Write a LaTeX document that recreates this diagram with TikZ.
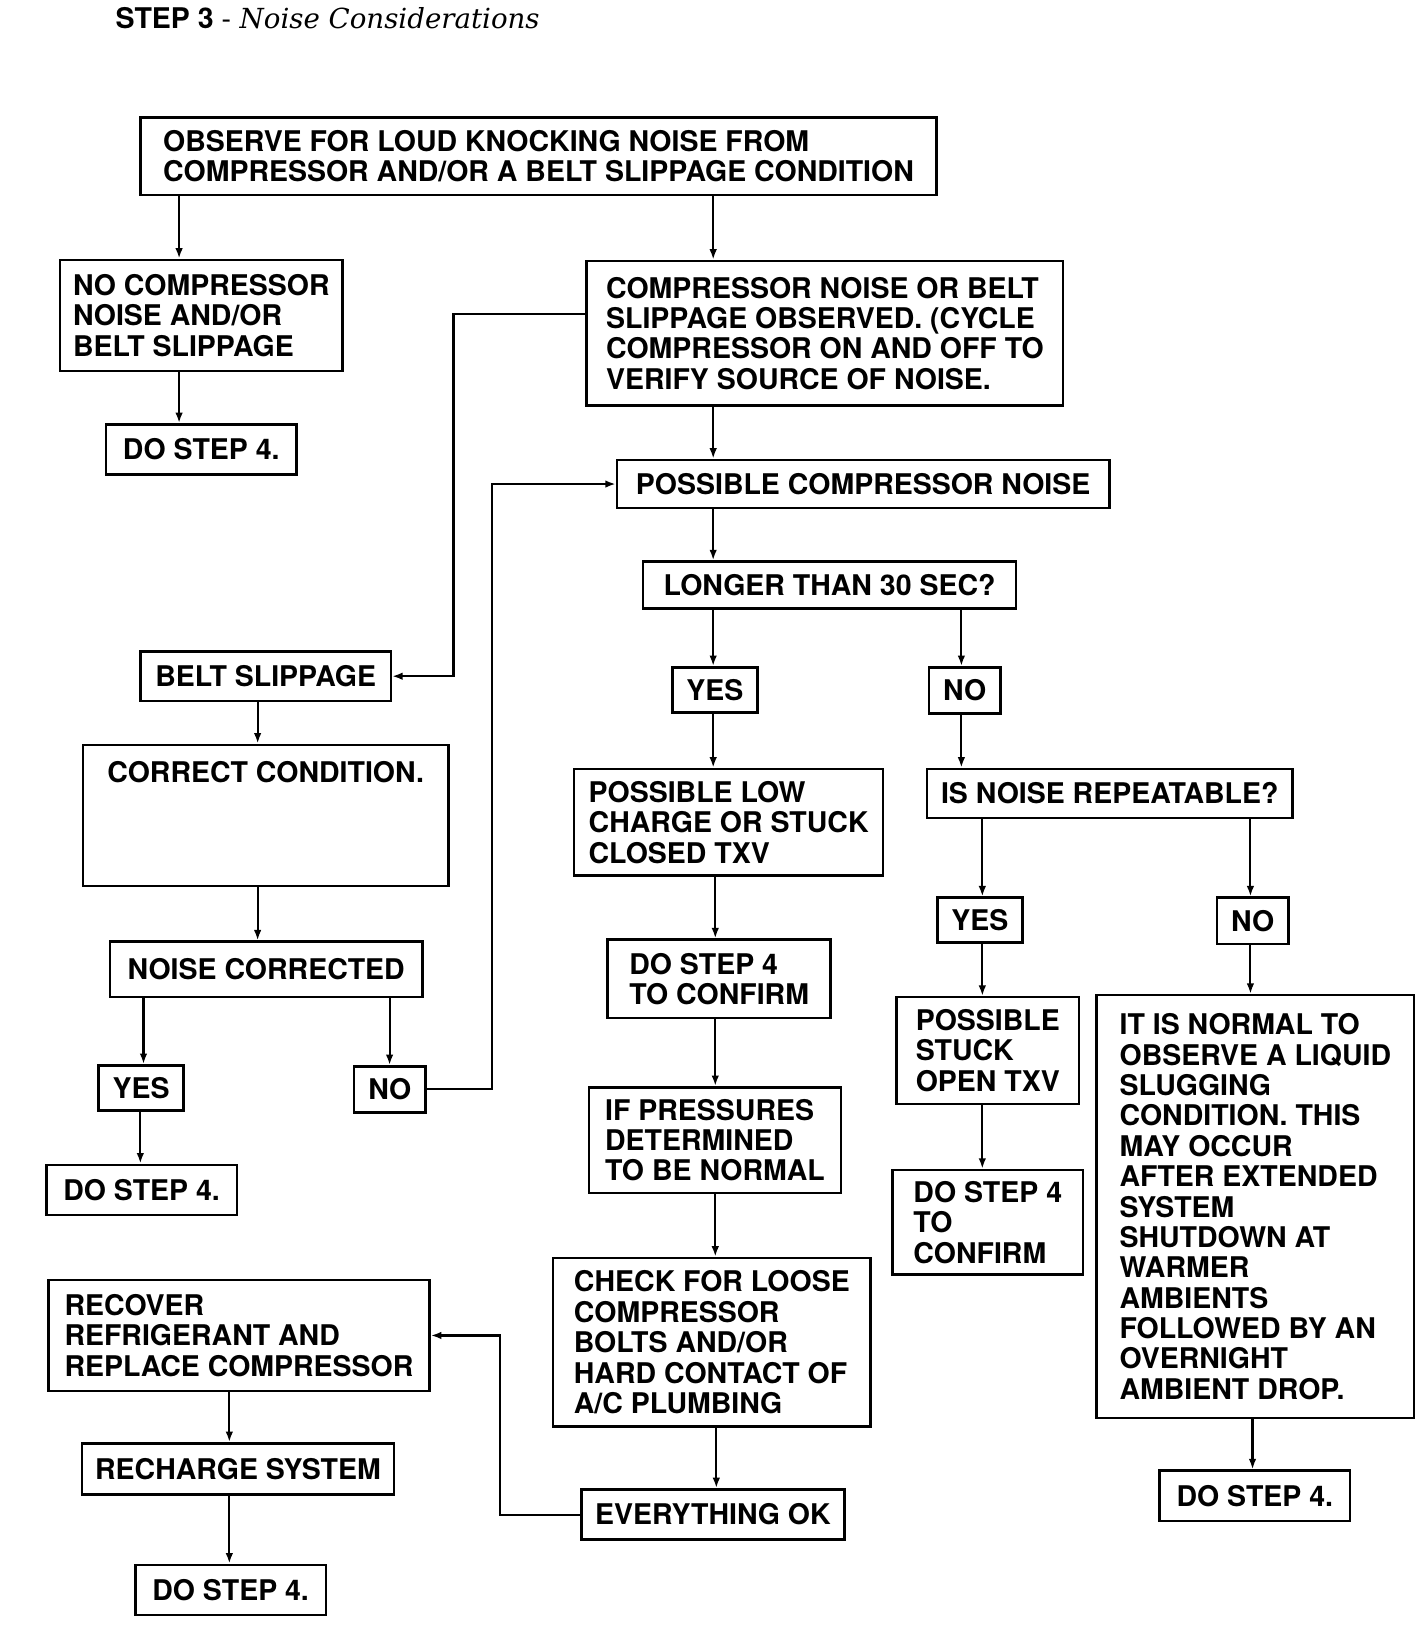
\documentclass[tikz,border=0pt]{standalone}
\usepackage{fontspec}
\newfontfamily\heros{TeX Gyre Heros}
\newfontfamily\dejaserif{DejaVu Serif}
\usetikzlibrary{arrows.meta,positioning}

\begin{document}
\begin{tikzpicture}[x=0.5pt,y=-0.5pt,
  blk/.style={draw,line width=1.2pt,anchor=north west,align=left,inner sep=3pt,
    font=\heros\bfseries\fontsize{13.6}{14.5}\selectfont},
  arr/.style={line width=1pt,-{Latex[length=5pt,width=3.6pt]}}]

\useasboundingbox (0,0) rectangle (1360,1566);

\node [anchor=base west,inner sep=0pt,font=\heros\bfseries\fontsize{13.6}{14.5}\selectfont] (title) at (110,27)
  {STEP 3 {\dejaserif\mdseries\fontsize{13.2}{15}\selectfont - \itshape Noise Considerations}};

% top of the chart
\node [blk,minimum width=380pt,minimum height=37pt] (obs) at (133,111)
  {OBSERVE FOR LOUD KNOCKING NOISE FROM\\COMPRESSOR AND/OR A BELT SLIPPAGE CONDITION};
\node [blk,minimum width=135pt,minimum height=53pt] (nocomp) at (56,247)
  {NO COMPRESSOR\\NOISE AND/OR\\BELT SLIPPAGE};
\node [blk,minimum width=227.5pt,minimum height=69pt] (obsd) at (559,248)
  {COMPRESSOR NOISE OR BELT\\SLIPPAGE OBSERVED. (CYCLE\\COMPRESSOR ON AND OFF TO\\VERIFY SOURCE OF NOISE.};
\node [blk,minimum width=235pt,minimum height=23pt] (pcn) at (588,438) {POSSIBLE COMPRESSOR NOISE};
\node [blk,minimum width=178pt,minimum height=22.5pt] (longer) at (613,535) {LONGER THAN 30 SEC?};

% middle column
\node [blk,minimum width=147.5pt,minimum height=51pt] (lowchg) at (547,733)
  {POSSIBLE LOW\\CHARGE OR STUCK\\CLOSED TXV};
\node [blk,minimum width=106.5pt,minimum height=37.5pt] (confirm1) at (579,896) {DO STEP 4\\TO CONFIRM};
\node [blk,minimum width=120.5pt,minimum height=50.5pt] (ifpress) at (561,1037)
  {IF PRESSURES\\DETERMINED\\TO BE NORMAL};
\node [blk,minimum width=151.5pt,minimum height=80.5pt] (loose) at (527,1200)
  {CHECK FOR LOOSE\\COMPRESSOR\\BOLTS AND/OR\\HARD CONTACT OF\\A/C PLUMBING};
\node [blk,minimum width=125.5pt,minimum height=24pt] (ok) at (554,1421) {EVERYTHING OK};

% right column
\node [blk,minimum width=174.5pt,minimum height=23.5pt] (repeat) at (884,733) {IS NOISE REPEATABLE?};
\node [blk,minimum width=87pt,minimum height=51pt] (stuckopen) at (855,951) {POSSIBLE\\STUCK\\OPEN TXV};
\node [blk,minimum width=91pt,minimum height=50pt] (confirm2) at (851,1116) {DO STEP 4\\TO\\CONFIRM};
\node [blk,minimum width=151.5pt,minimum height=202pt] (normal) at (1046,949)
  {IT IS NORMAL TO\\OBSERVE A LIQUID\\SLUGGING\\CONDITION. THIS\\MAY OCCUR\\AFTER EXTENDED\\SYSTEM\\SHUTDOWN AT\\WARMER\\AMBIENTS\\FOLLOWED BY AN\\OVERNIGHT\\AMBIENT DROP.};

% left column
\node [blk,minimum width=119.5pt,minimum height=23.5pt] (belt) at (133,621) {BELT SLIPPAGE};
\node [blk,minimum width=174.5pt,text height=15pt,text depth=46.5pt] (correct) at (78,710) {CORRECT CONDITION.};
\node [blk,minimum width=149pt,minimum height=26.5pt] (corrected) at (104,898) {NOISE CORRECTED};
\node [blk,minimum width=182pt,minimum height=53pt] (recover) at (45,1221)
  {RECOVER\\REFRIGERANT AND\\REPLACE COMPRESSOR};
\node [blk,minimum width=149pt,minimum height=24.5pt] (recharge) at (77,1377) {RECHARGE SYSTEM};

\foreach \n/\x/\y in {do4a/100/404,do4b/43/1111,do4c/128/1493,do4e/1106/1403}
  \node [blk,minimum width=91pt,minimum height=24pt] (\n) at (\x,\y) {DO STEP 4.};
\foreach \n/\x/\y in {yes1/641/636,yes2/894/856,yes3/93/1016}
  \node [blk,minimum width=40.5pt,minimum height=21.5pt] (\n) at (\x,\y) {YES};
\foreach \n/\x/\y in {no1/886/636,no2/1161/856,no3/337/1017}
  \node [blk,minimum width=34pt,minimum height=22pt] (\n) at (\x,\y) {NO};

% straight arrows
\foreach \a/\b/\x in {obs/nocomp/171,obs/obsd/681,nocomp/do4a/171,obsd/pcn/681,pcn/longer/681,
    longer/yes1/681,longer/no1/918,yes1/lowchg/681,no1/repeat/918,lowchg/confirm1/683,
    confirm1/ifpress/683,ifpress/loose/683,loose/ok/684,repeat/yes2/938,repeat/no2/1194,
    yes2/stuckopen/938,no2/normal/1194,stuckopen/confirm2/938,normal/do4e/1196,
    belt/correct/246,correct/corrected/246,corrected/yes3/137,corrected/no3/372,
    yes3/do4b/134,recover/recharge/219,recharge/do4c/219}
  \draw [arr] (\a.south -| \x,0) -- (\b.north -| \x,0);

% loops back
\draw [arr] (obsd.west |- 0,300) -| (433,0 |- belt) -- (belt);
\draw [arr] (no3) -| (470,0 |- pcn) -- (pcn);
\draw [arr] (ok) -| (477,0 |- recover) -- (recover);

\end{tikzpicture}
\end{document}
